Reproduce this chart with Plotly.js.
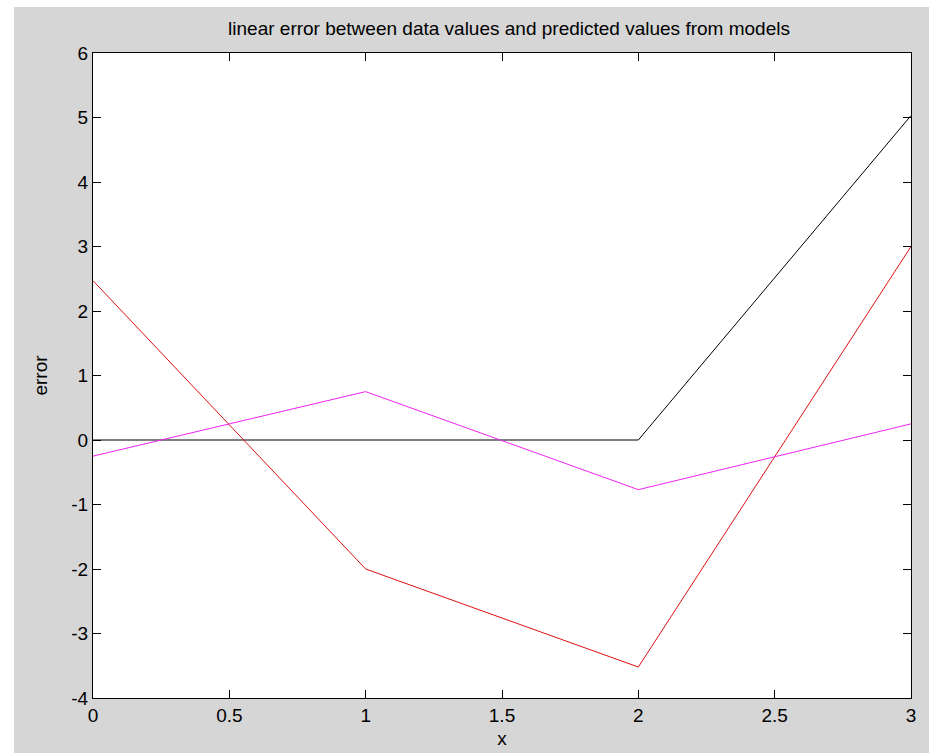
<!DOCTYPE html>
<html>
<head>
<meta charset="utf-8">
<script src="https://cdn.plot.ly/plotly-3.0.1.min.js"></script>
<style>
  html, body { margin: 0; padding: 0; background: #ffffff; }
  #chart { position: absolute; left: 14px; top: 7px; width: 915px; height: 746px; }
</style>
</head>
<body>
<div id="chart"></div>
<script>
// Data
const xValues = [0, 1, 2, 3];
const blackError = [0, 0, 0, 5.03];
const redError = [2.47, -2, -3.52, 3];
const magentaError = [-0.25, 0.75, -0.77, 0.25];
const xTickVals = [0, 0.5, 1, 1.5, 2, 2.5, 3];
const xTickText = ['0', '0.5', '1', '1.5', '2', '2.5', '3'];
const yTickVals = [-4, -3, -2, -1, 0, 1, 2, 3, 4, 5, 6];
const yTickText = ['-4', '-3', '-2', '-1', '0', '1', '2', '3', '4', '5', '6'];
const titleText = 'linear error between data values and predicted values from models';
const xLabel = 'x';
const yLabel = 'error';

const fontFam = '"Liberation Sans Narrow", "Arial Narrow", "Liberation Sans", Arial, sans-serif';
const fontSize = 19;

const traces = [
  { x: xValues, y: blackError, mode: 'lines', line: { color: '#000000', width: 1 }, name: 'model 1' },
  { x: xValues, y: redError, mode: 'lines', line: { color: '#dd1111', width: 1 }, name: 'model 2' },
  { x: xValues, y: magentaError, mode: 'lines', line: { color: '#ee22ee', width: 1 }, name: 'model 3' }
];

const axisCommon = {
  showgrid: false,
  zeroline: false,
  showline: true,
  linecolor: '#000000',
  linewidth: 1,
  mirror: 'ticks',
  ticks: 'inside',
  ticklen: 8,
  tickwidth: 1,
  tickcolor: '#000000',
  tickfont: { family: fontFam, size: fontSize, color: '#000000' }
};

const layout = {
  width: 915,
  height: 746,
  paper_bgcolor: '#d6d6d6',
  plot_bgcolor: '#ffffff',
  showlegend: false,
  margin: { l: 79, r: 18, t: 46, b: 55, pad: 0 },
  title: {
    text: titleText,
    font: { family: fontFam, size: fontSize, color: '#000000' },
    x: 0.541, xref: 'container', xanchor: 'center',
    y: 0.972, yref: 'container', yanchor: 'middle'
  },
  xaxis: Object.assign({}, axisCommon, {
    range: [0, 3],
    tickmode: 'array',
    tickvals: xTickVals,
    ticktext: xTickText,
    title: { text: xLabel, font: { family: fontFam, size: fontSize, color: '#000000' }, standoff: 6 }
  }),
  yaxis: Object.assign({}, axisCommon, {
    range: [-4, 6],
    tickmode: 'array',
    tickvals: yTickVals,
    ticktext: yTickText,
    title: { text: yLabel, font: { family: fontFam, size: fontSize, color: '#000000' }, standoff: 18 }
  })
};

Plotly.newPlot('chart', traces, layout, { displayModeBar: false, staticPlot: true });
</script>
</body>
</html>
